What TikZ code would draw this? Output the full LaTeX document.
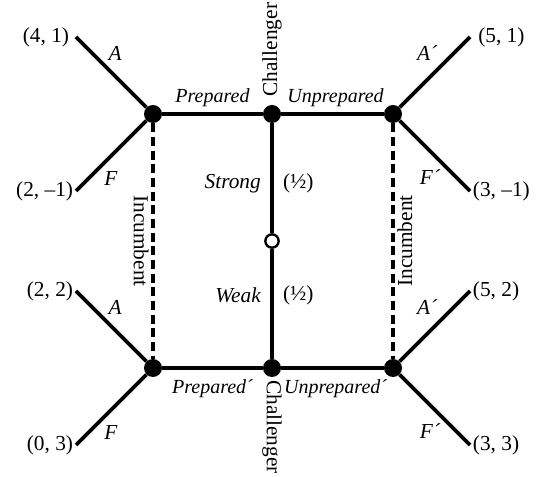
\documentclass[tikz,border=0pt]{standalone}
\usepackage{fontspec}
\setmainfont{Liberation Serif}

\begin{document}
\begin{tikzpicture}[x=0.75pt, y=-0.75pt,
    dec/.style={circle, fill, inner sep=0pt, minimum size=13.5pt},
    chance/.style={circle, draw, fill=white, line width=1.8pt, inner sep=0pt, minimum size=10pt},
    branch/.style={line width=2.8pt},
    info/.style={line width=2.5pt, dash pattern=on 6.75pt off 3.5pt},
    txt/.style={font=\fontsize{16}{19}\selectfont, inner sep=2pt},
    act/.style={font=\fontsize{16}{19}\selectfont\itshape, inner sep=2pt},
    move/.style={font=\fontsize{15}{18}\selectfont\itshape, inner sep=2pt}]

	\useasboundingbox (0,0) rectangle (536,477);

	% decision and chance nodes
	\node[dec] (IS) at (153,114) {};
	\node[dec] (CS) at (272,114) {};
	\node[dec] (IU) at (393,114) {};
	\node[chance] (N) at (272,241) {};
	\node[dec] (IW) at (153,368) {};
	\node[dec] (CW) at (272,368) {};
	\node[dec] (IV) at (393,368) {};

	% end points and payoffs
	\coordinate (e1) at (76,37);
	\coordinate (e2) at (76,191);
	\coordinate (e3) at (470,37);
	\coordinate (e4) at (470,191);
	\coordinate (e5) at (76,291);
	\coordinate (e6) at (76,445);
	\coordinate (e7) at (470,291);
	\coordinate (e8) at (470,445);

	\node[txt, left, xshift=-3pt] (p1) at (e1) {(4, 1)};
	\node[txt, left] (p2) at (e2) {(2, –1)};
	\node[txt, right, xshift=4pt] (p3) at (e3) {(5, 1)};
	\node[txt, right] (p4) at (e4) {(3, –1)};
	\node[txt, left] (p5) at (e5) {(2, 2)};
	\node[txt, left] (p6) at (e6) {(0, 3)};
	\node[txt, right] (p7) at (e7) {(5, 2)};
	\node[txt, right] (p8) at (e8) {(3, 3)};

	% players
	\node[txt, rotate=90, anchor=west] (c1) at ([yshift=4pt]CS.north) {Challenger};
	\node[txt, rotate=-90, anchor=west] (c2) at (CW.south) {Challenger};

	% chance moves
	\draw[branch] (CS) -- node[act, pos=.55, left=5pt] {Strong} node[txt, pos=.55, right=5pt] {(½)} (N);
	\draw[branch] (N) -- node[act, pos=.42, left=5pt] {Weak} node[txt, pos=.42, right=5pt] {(½)} (CW);

	% challenger moves
	\draw[branch] (CS) -- node[move, above=2pt] {Prepared} (IS);
	\draw[branch] (CS) -- node[move, pos=.53, above=2pt] {Unprepared} (IU);
	\draw[branch] (CW) -- node[move, below=5pt] {Prepared´} (IW);
	\draw[branch] (CW) -- node[move, pos=.53, below=5pt] {Unprepared´} (IV);

	% information sets
	\draw[info] (IS) -- node[txt, rotate=-90, anchor=north] {Incumbent} (IW);
	\draw[info] (IU) -- node[txt, rotate=90, anchor=north] {Incumbent} (IV);

	% incumbent moves
	\draw[branch] (IS) -- node[act, pos=.6, above right] {A} (e1);
	\draw[branch] (IS) -- node[act, pos=.66, below right] {F} (e2);
	\draw[branch] (IU) -- node[act, pos=.6, above left] {A´} (e3);
	\draw[branch] (IU) -- node[act, pos=.64, below left] {F´} (e4);
	\draw[branch] (IW) -- node[act, pos=.6, above right] {A} (e5);
	\draw[branch] (IW) -- node[act, pos=.66, below right] {F} (e6);
	\draw[branch] (IV) -- node[act, pos=.6, above left] {A´} (e7);
	\draw[branch] (IV) -- node[act, pos=.64, below left] {F´} (e8);
\end{tikzpicture}
\end{document}
